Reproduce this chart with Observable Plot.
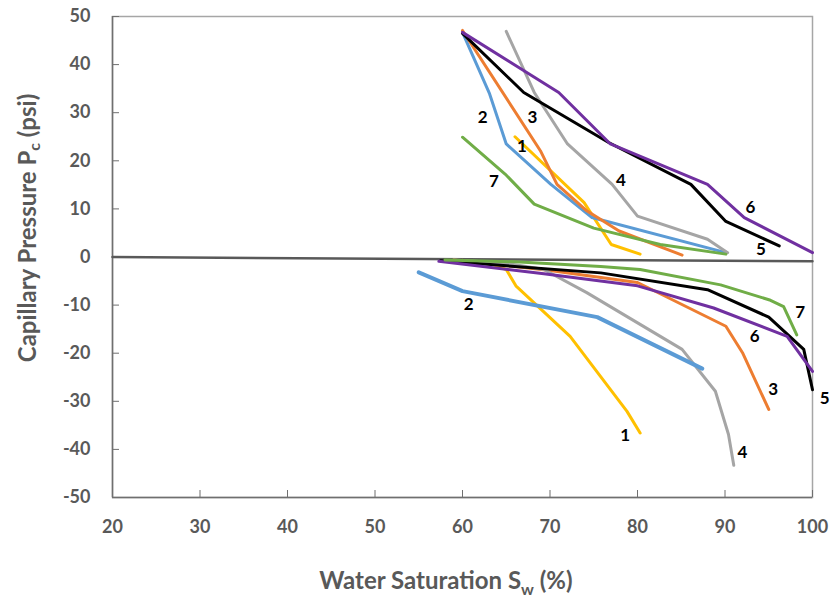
<!DOCTYPE html>
<html><head><meta charset="utf-8">
<script src="https://cdn.jsdelivr.net/npm/d3@7"></script>
<script src="https://cdn.jsdelivr.net/npm/@observablehq/plot@0.6"></script>
<style>body{margin:0;background:#fff;} svg{font-family:Lato,sans-serif;}</style>
</head><body><div id="chart"></div>
<script>
const curves = ["1","2","3","4","5","6","7"];
const colors = ["#FFC000","#5B9BD5","#ED7D31","#A5A5A5","#000000","#7030A0","#70AD47"];
const xTicks = [20,30,40,50,60,70,80,90,100];
const yTicks = [-50,-40,-30,-20,-10,0,10,20,30,40,50];

// Drainage (positive capillary pressure) curves: [Sw %, Pc psi]
const drain1 = [[66.0,25.0],[73.9,11.3],[77.0,2.6],[80.3,0.6]];
const drain2 = [[60,46.7],[63.1,33.9],[65,23.5],[70.1,15.1],[74.8,8.2],[90.1,0.9]];
const drain3 = [[60,47.1],[68.9,22.1],[70.8,15.1],[74.2,9.6],[77.9,5.4],[85.1,0.4]];
const drain4 = [[65,46.9],[68.2,34.2],[72,23.5],[77.1,15.1],[80,8.5],[88,3.7],[90.3,0.9]];
const drain5 = [[60,46.5],[67,34.2],[76.7,23.8],[86.1,15.1],[90.1,7.4],[96.2,2.3]];
const drain6 = [[60,46.7],[71,34.2],[76.9,23.5],[88,15.1],[92.2,8.2],[100,0.9]];
const drain7 = [[60,24.9],[64.9,17.2],[68.2,11],[75,6],[82.6,2.6],[90.1,0.6]];

// Imbibition (negative capillary pressure) curves
const imb1 = [[60,-0.7],[63.5,-1.6],[65,-2.6],[66.1,-6],[72.3,-16.5],[78.8,-32.1],[80.3,-36.6]];
const imb2 = [[55,-3.2],[60,-7.1],[75.4,-12.5],[87.4,-23.2]];
const imb3 = [[59,-0.6],[70,-2.8],[80,-5.3],[90.1,-14.4],[92,-19.9],[95,-31.7]];
const imb4 = [[59,-0.6],[65,-1.3],[69.3,-2.6],[74.2,-7.4],[85.1,-19.2],[88.9,-27.9],[90.4,-36.9],[91,-43.3]];
const imb5 = [[57.5,-0.8],[75.8,-3.3],[88,-6.8],[95,-12.5],[99,-19.2],[100,-27.6]];
const imb6 = [[57.3,-0.9],[69.3,-3.5],[80,-6],[88.7,-10.6],[97.1,-16.5],[100,-23.8]];
const imb7 = [[58,-0.6],[66,-1],[75.8,-2],[80.3,-2.6],[89.5,-5.8],[95.2,-9],[96.7,-10.3],[98.2,-16.2]];

// zero reference line
const zeroLine = [[20,0],[100,-0.9]];

// curve labels
const labelText = ["2","3","1","7","4","6","5","2","1","3","4","6","7","5"];
const labelX = [62.3,68.0,66.8,63.6,78.1,92.9,94.1,60.7,78.6,95.5,92.0,93.4,98.6,101.4];
const labelY = [29.0,29.0,22.9,15.7,15.8,10.3,1.6,-9.8,-37.2,-27.6,-40.6,-16.6,-11.6,-29.5];

const drains = [drain1,drain2,drain3,drain4,drain5,drain6,drain7];
const imbs = [imb1,imb2,imb3,imb4,imb5,imb6,imb7];
const toRows = (sets) => sets.flatMap((pts,i)=>pts.map(([x,y])=>({curve:curves[i],x,y})));
const drainRows = toRows(drains);
const imbRows = toRows(imbs);
const labels = labelText.map((t,i)=>({t,x:labelX[i],y:labelY[i]}));
const zeroRows = zeroLine.map(([x,y])=>({x,y}));

const lineOpts = {x:"x", y:"y", z:"curve", stroke:"curve", strokeWidth:3, strokeLinejoin:"round", strokeLinecap:"round"};
const tickFont = {fontSize:18, fontWeight:"bold", fill:"#595959", tickFormat:d=>String(d)};

const plot = Plot.plot({
  width:831, height:600,
  marginLeft:112, marginRight:19, marginTop:16, marginBottom:103,
  style:{fontFamily:"Lato, sans-serif", overflow:"visible", background:"#fff"},
  x:{domain:[20,100]},
  y:{domain:[-50,50]},
  color:{domain:curves, range:colors},
  marks:[
    Plot.frame({stroke:"#a6a6a6", strokeWidth:1.5}),
    Plot.ruleX([20],{stroke:"#6f6f6f", strokeWidth:1.5}),
    Plot.ruleY([-50],{stroke:"#6f6f6f", strokeWidth:1.5}),
    Plot.axisX(xTicks,{tickSize:7, dy:-7, text:null, label:null, stroke:"#6f6f6f"}),
    Plot.axisY(yTicks,{tickSize:7, dx:7, text:null, label:null, stroke:"#6f6f6f"}),
    Plot.axisX(xTicks,{tickSize:0, tickPadding:23, label:null, ...tickFont}),
    Plot.axisY(yTicks,{tickSize:0, tickPadding:22, label:null, ...tickFont}),
    Plot.line(zeroRows,{x:"x", y:"y", stroke:"#595959", strokeWidth:2.5}),
    Plot.line(imbRows.filter(d=>d.curve!=="2"), lineOpts),
    Plot.line(imbRows.filter(d=>d.curve==="2"), {...lineOpts, strokeWidth:4}),
    Plot.line(drainRows, lineOpts),
    Plot.text(labels,{x:"x", y:"y", text:"t", fontSize:17, fontWeight:"bold", fill:"#000"})
  ]
});

const svg = d3.select(plot);
const yt = svg.append("text")
  .attr("transform","translate(30,228) rotate(-90)")
  .attr("text-anchor","middle").attr("dominant-baseline","middle")
  .attr("font-size",24).attr("font-weight","bold").attr("fill","#595959");
yt.append("tspan").text("Capillary Pressure P");
yt.append("tspan").attr("dy",6).attr("font-size",16).text("c");
yt.append("tspan").attr("dy",-6).text(" (psi)");

const xt = svg.append("text")
  .attr("x",446).attr("y",589)
  .attr("text-anchor","middle")
  .attr("font-size",24).attr("font-weight","bold").attr("fill","#595959");
xt.append("tspan").text("Water Saturation S");
xt.append("tspan").attr("dy",6).attr("font-size",16).text("w");
xt.append("tspan").attr("dy",-6).text(" (%)");

document.getElementById("chart").appendChild(plot);
</script>
</body></html>
